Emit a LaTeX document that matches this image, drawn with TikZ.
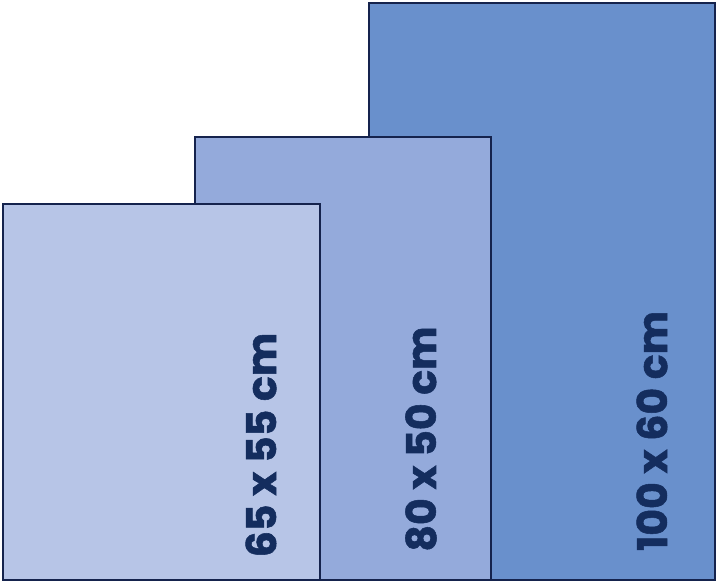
\documentclass[tikz,border=0pt]{standalone}
\usepackage{fontspec}
\setmainfont{Poppins}
\newfontfamily\heavyfont{Poppins}[UprightFont=* Bold, FakeBold=1.3]
\definecolor{edge}{HTML}{15234D}
\definecolor{txt}{HTML}{142D5E}
\definecolor{fsmall}{HTML}{B7C5E7}
\definecolor{fmid}{HTML}{94AADB}
\definecolor{flarge}{HTML}{6990CC}
\tikzset{
  sheet/.style={draw=edge, line width=2.5pt},
  size/.style={rotate=90, text=txt, font=\heavyfont\fontsize{41}{41}\selectfont, inner sep=0pt, anchor=center}
}
\begin{document}
\begin{tikzpicture}[x=1pt,y=-1pt]
\useasboundingbox (0,0) rectangle (720,584);
\fill[white] (0,0) rectangle (720,584);
\draw[sheet, fill=flarge] (369,3) rectangle (715,580);
\draw[sheet, fill=fmid] (195,137) rectangle (491,580);
\draw[sheet, fill=fsmall] (3,204) rectangle (320,580);
\node[size] (tl) at (652,431) {100 x 60 cm};
\node[size] (tm) at (421,439) {80 x 50 cm};
\node[size] (ts) at (261,445) {65 x 55 cm};
\end{tikzpicture}
\end{document}
